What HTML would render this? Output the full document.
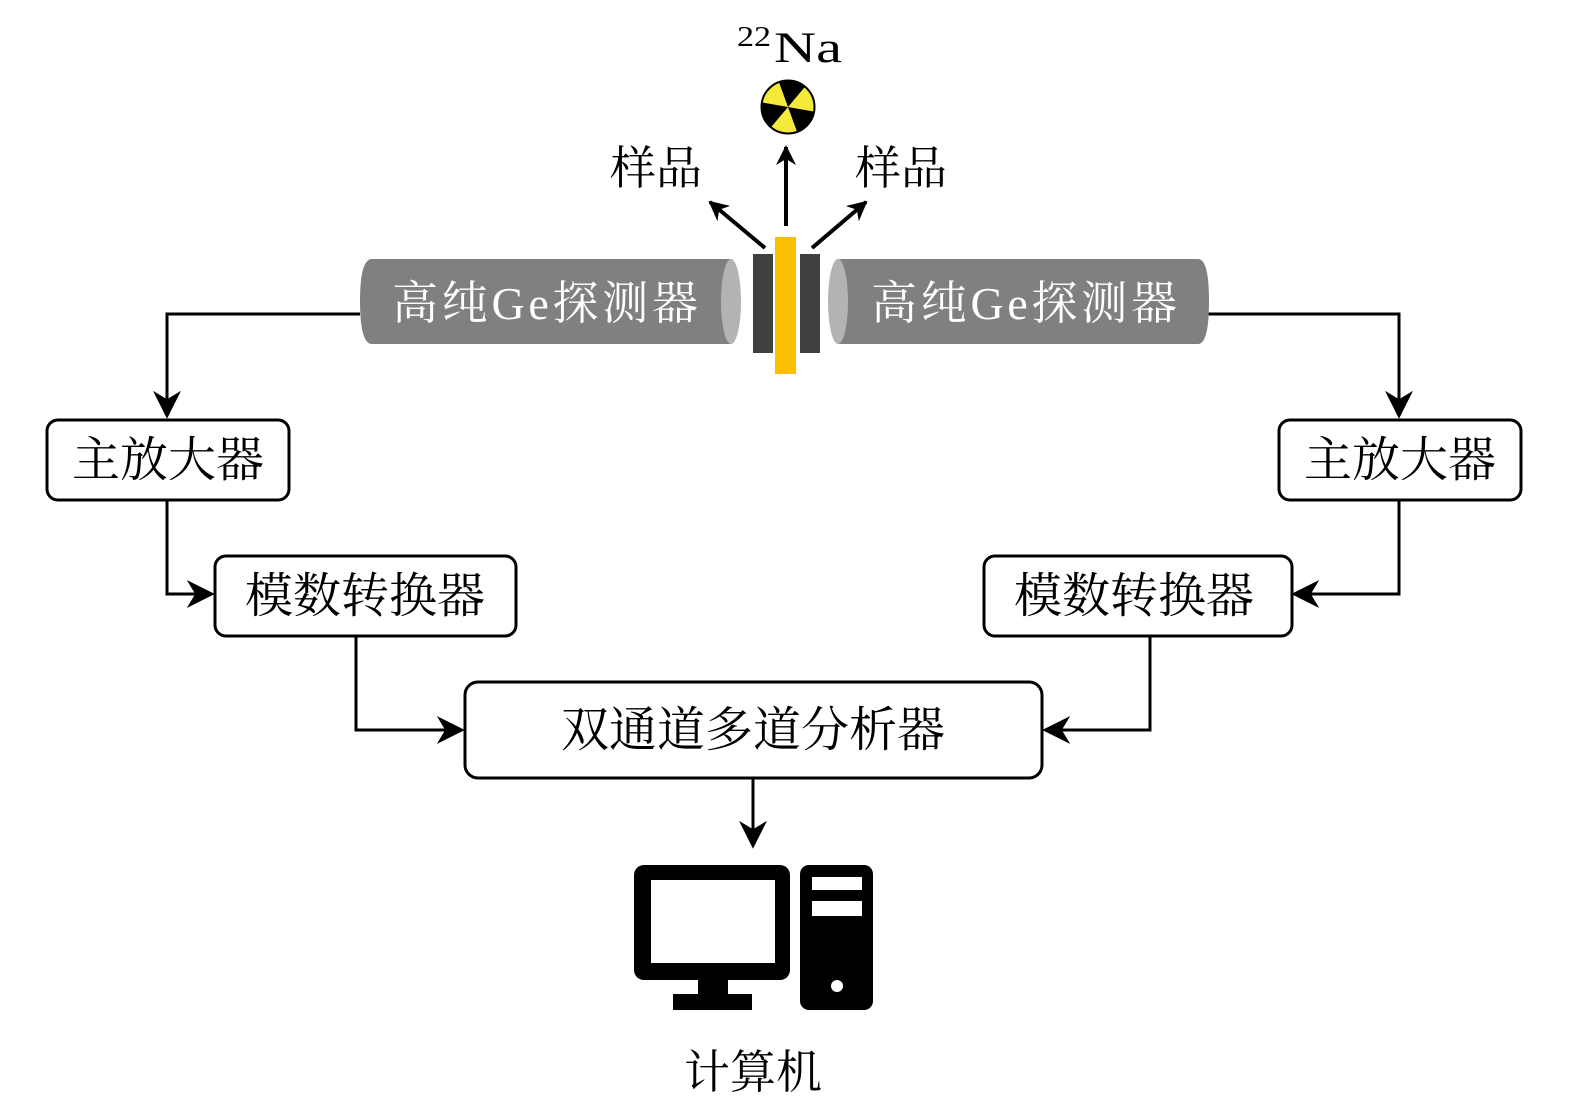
<!DOCTYPE html>
<html><head><meta charset="utf-8"><style>
html,body{margin:0;padding:0;background:#fff}
svg{display:block}
.t{font-family:"Liberation Serif","Noto Serif CJK SC",serif;}
</style></head><body>
<svg width="1575" height="1112" viewBox="0 0 1575 1112" xmlns="http://www.w3.org/2000/svg">
<defs>
<marker id="ar" viewBox="0 0 20 20" refX="18" refY="10" markerWidth="20" markerHeight="20" markerUnits="userSpaceOnUse" orient="auto">
<path d="M0,0 L20,10 L0,20 L6,10 Z" fill="#000"/>
</marker>
<marker id="ar2" viewBox="0 0 20 20" refX="18" refY="10" markerWidth="28" markerHeight="28" markerUnits="userSpaceOnUse" orient="auto">
<path d="M0,0 L20,10 L0,20 L6,10 Z" fill="#000"/>
</marker>
</defs>
<g fill="none" stroke="#000" stroke-width="3">
<path d="M360 314 H167 V416" marker-end="url(#ar2)"/>
<path d="M1208 314 H1399 V416" marker-end="url(#ar2)"/>
<path d="M167 500 V594 H212" marker-end="url(#ar2)"/>
<path d="M1399 500 V594 H1294" marker-end="url(#ar2)"/>
<path d="M356 636 V730 H462" marker-end="url(#ar2)"/>
<path d="M1150 636 V730 H1045" marker-end="url(#ar2)"/>
<path d="M753 779 V846" marker-end="url(#ar2)"/>
</g>
<g fill="none" stroke="#000" stroke-width="4">
<path d="M786 226 V147" marker-end="url(#ar)"/>
<path d="M765 248 L710 202" marker-end="url(#ar)"/>
<path d="M812 248 L866 202" marker-end="url(#ar)"/>
</g>
<path d="M372 259 H731 V344 H372 Q360 344 360 301 Q360 259 372 259 Z" fill="#808080"/>
<ellipse cx="731" cy="301.5" rx="10" ry="42.5" fill="#b3b3b3"/>
<path d="M838 259 H1198 Q1209 259 1209 301 Q1209 344 1198 344 H838 Z" fill="#808080"/>
<ellipse cx="838" cy="301.5" rx="10" ry="42.5" fill="#b3b3b3"/>
<text class="t" x="392" y="319" font-size="46" fill="#fff" textLength="306" lengthAdjust="spacing">高纯Ge探测器</text>
<text class="t" x="871" y="319" font-size="46" fill="#fff" textLength="306" lengthAdjust="spacing">高纯Ge探测器</text>
<rect x="753" y="254" width="20" height="99" fill="#404040"/>
<rect x="800" y="254" width="20" height="99" fill="#404040"/>
<rect x="775" y="237" width="21" height="137" fill="#fbbf00"/>
<circle cx="788" cy="107" r="26.5" fill="#f5ea3a" stroke="#000" stroke-width="2"/>
<path d="M788 107 L804.7 87.1 A26 26 0 0 0 779.1 82.6 Z M788 107 L762.4 102.5 A26 26 0 0 0 771.3 126.9 Z M788 107 L796.9 131.4 A26 26 0 0 0 813.6 111.5 Z" fill="#000"/>
<text class="t" x="737" y="46" font-size="29" textLength="34" lengthAdjust="spacingAndGlyphs">22</text>
<text class="t" x="774" y="62" font-size="43" textLength="68" lengthAdjust="spacingAndGlyphs">Na</text>
<text class="t" x="656" y="184" font-size="46" text-anchor="middle">样品</text>
<text class="t" x="901" y="184" font-size="46" text-anchor="middle">样品</text>
<g fill="#fff" stroke="#000" stroke-width="3">
<rect x="47" y="420" width="242" height="80" rx="11"/>
<rect x="1279" y="420" width="242" height="80" rx="11"/>
<rect x="215" y="556" width="301" height="80" rx="11"/>
<rect x="984" y="556" width="308" height="80" rx="11"/>
<rect x="465" y="682" width="577" height="96" rx="13"/>
</g>
<g class="t" font-size="48" text-anchor="middle">
<text x="168" y="476">主放大器</text>
<text x="1400" y="476">主放大器</text>
<text x="365" y="612">模数转换器</text>
<text x="1134" y="612">模数转换器</text>
<text x="753" y="746">双通道多道分析器</text>
<text x="753" y="1088" font-size="46">计算机</text>
</g>
<rect x="634" y="865" width="156" height="115" rx="10" fill="#000"/>
<rect x="651" y="880" width="124" height="83" fill="#fff"/>
<rect x="698" y="978" width="30" height="18" fill="#000"/>
<rect x="673" y="994" width="79" height="16" fill="#000"/>
<rect x="800" y="865" width="73" height="145" rx="9" fill="#000"/>
<rect x="812" y="877" width="50" height="13" fill="#fff"/>
<rect x="812" y="901" width="50" height="15" fill="#fff"/>
<circle cx="837" cy="986" r="6" fill="#fff"/>
</svg>
</body></html>
